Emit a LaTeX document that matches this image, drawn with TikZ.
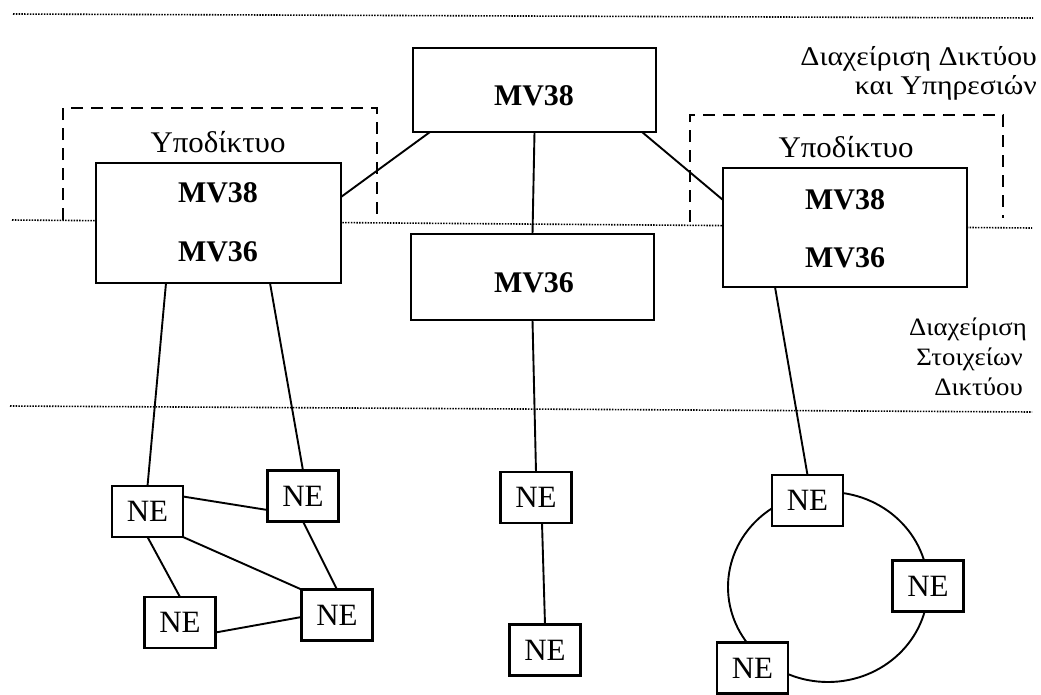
\documentclass[tikz,border=0pt]{standalone}
\usepackage{fontspec}
\setmainfont{Liberation Serif}
\usetikzlibrary{calc}
\begin{document}
\begin{tikzpicture}[x=1pt,y=-1pt,
  box/.style={draw,line width=2.2pt,fill=white,inner sep=0pt,outer sep=0pt},
  nebox/.style={box,minimum width=71pt,minimum height=51pt,font=\fontsize{31}{31}\selectfont},
  mvtxt/.style={inner sep=0pt,font=\fontsize{30}{30}\selectfont\bfseries},
  subtxt/.style={inner sep=0pt,anchor=base,font=\fontsize{30}{30}\selectfont},
  toptxt/.style={inner sep=0pt,anchor=base east,font=\fontsize{27}{27}\selectfont},
  lowtxt/.style={inner sep=0pt,anchor=base east,font=\fontsize{25}{25}\selectfont},
  link/.style={line width=1.9pt},
  boundary/.style={line width=1.6pt,dash pattern=on 1.5pt off 1.3pt},
  subnet/.style={line width=2.3pt,dash pattern=on 12pt off 8pt}]
\useasboundingbox (0,0) rectangle (1041,694);

% layer boundaries
\draw[boundary] (13,14) -- (1033,18);
\draw[boundary] (12,220) -- (1032,228);
\draw[boundary] (10,406) -- (1032,412);

% subnetwork frames
\draw[subnet] (63,220) -- (63,108) -- (377,108) -- (377,214);
\draw[subnet] (690,222) -- (690,115) -- (1003,115) -- (1003,218);

% ring of network elements
\draw[link] (828,587) ellipse [x radius=100, y radius=95];

% managers
\node[box,minimum width=243pt,minimum height=84pt] (top) at (534.5,90) {};
\node[mvtxt] at (534,96) {MV38};
\node[box,minimum width=243pt,minimum height=86pt] (mid) at (532.5,277) {};
\node[mvtxt] at (534,283) {MV36};
\node[box,minimum width=245pt,minimum height=120pt] (lbox) at (218.5,223) {};
\node[mvtxt] at (218,193) {MV38};
\node[mvtxt] at (218,252) {MV36};
\node[subtxt] (lsub) at (218,152) {\scalebox{1.03}[1]{Υποδίκτυο}};
\node[box,minimum width=244pt,minimum height=119pt] (rbox) at (845,227.5) {};
\node[mvtxt] at (845,200) {MV38};
\node[mvtxt] at (845,258) {MV36};
\node[subtxt] (rsub) at (846,157) {\scalebox{1.03}[1]{Υποδίκτυο}};

% layer labels
\node[toptxt] (nm1) at (1037,65) {\scalebox{1.1}[1]{Διαχείριση Δικτύου}};
\node[toptxt] (nm2) at (1037,94) {\scalebox{1.1}[1]{και Υπηρεσιών}};
\node[lowtxt] (em1) at (1027,335) {\scalebox{1.07}[1]{Διαχείριση}};
\node[lowtxt] (em2) at (1023,365) {\scalebox{1.07}[1]{Στοιχείων}};
\node[lowtxt] (em3) at (1023,395) {\scalebox{1.07}[1]{Δικτύου}};

% network elements
\node[nebox] (ne1) at (147.5,511.5) {NE};
\node[nebox] (ne2) at (303,496) {NE};
\node[nebox] (ne3) at (180,622.5) {NE};
\node[nebox] (ne4) at (337,615) {NE};
\node[nebox] (ne5) at (536,497.5) {NE};
\node[nebox] (ne6) at (545,650) {NE};
\node[nebox] (ne7) at (807.5,500.5) {NE};
\node[nebox] (ne8) at (928,586) {NE};
\node[nebox] (ne9) at (752.5,668) {NE};

% connections
\draw[link] ($(top.south west)+(17,0)$) -- ($(lbox.east)+(0,-26)$);
\draw[link] ($(top.south east)+(-14,0)$) -- ($(rbox.west)+(0,-27.5)$);
\draw[link] (top.south) -- (mid.north);
\draw[link] ($(lbox.south west)+(70,0)$) -- (ne1.north);
\draw[link] ($(lbox.south west)+(174,0)$) -- (ne2.north);
\draw[link] (mid.south) -- (ne5.north);
\draw[link] ($(ne5.south)+(6,0)$) -- (ne6.north);
\draw[link] ($(rbox.south west)+(52,0)$) -- (ne7.north);
\draw[link] ($(ne1.east)+(0,-15)$) -- ($(ne2.west)+(0,14)$);
\draw[link] (ne1.south east) -- (ne4.north west);
\draw[link] (ne1.south) -- (ne3.north);
\draw[link] (ne2.south) -- (ne4.north);
\draw[link] ($(ne3.east)+(0,10)$) -- ($(ne4.west)+(0,2)$);
\end{tikzpicture}
\end{document}
